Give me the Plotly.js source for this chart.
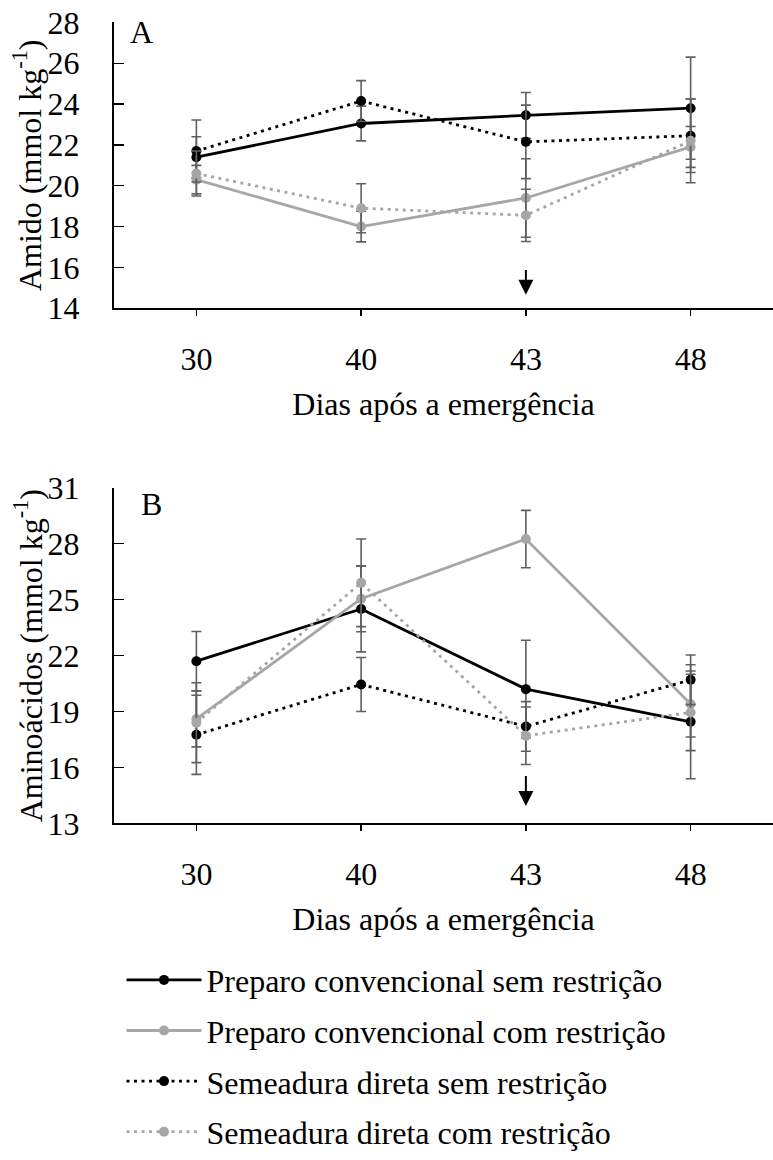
<!DOCTYPE html>
<html><head><meta charset="utf-8">
<script src="https://cdn.plot.ly/plotly-3.0.1.min.js"></script>
<style>
body{margin:0;background:#fff}
#chart{width:773px;height:1160px}
#chart svg text{font-family:"Liberation Serif","Times New Roman","DejaVu Serif",serif !important}
</style>
</head><body><div id="chart"></div>
<script>
// categories
const days = ['30', '40', '43', '48'];
const seriesNames = [
  'Preparo convencional sem restrição',
  'Preparo convencional com restrição',
  'Semeadura direta sem restrição',
  'Semeadura direta com restrição'
];
// Panel A: Amido (mmol kg-1)
const amidoPCsem = [21.4, 23.05, 23.45, 23.8];
const amidoPCsemErr = [1.0, 0.85, 1.12, 2.5];
const amidoPCcom = [20.3, 18.0, 19.4, 21.9];
const amidoPCcomErr = [0.7, 0.75, 1.92, 1.0];
const amidoSDsem = [21.7, 24.15, 22.15, 22.45];
const amidoSDsemErr = [1.52, 1.0, 1.8, 1.8];
const amidoSDcom = [20.6, 18.9, 18.55, 22.2];
const amidoSDcomErr = [1.1, 1.2, 1.28, 2.05];
// Panel B: Aminoácidos (mmol kg-1)
const aminoPCsem = [21.7, 24.5, 20.2, 18.45];
const aminoPCsemErr = [1.59, 2.3, 2.62, 3.06];
const aminoPCcom = [18.6, 25.05, 28.25, 19.4];
const aminoPCcomErr = [1.5, 1.77, 1.54, 1.77];
const aminoSDsem = [17.75, 20.45, 18.2, 20.7];
const aminoSDsemErr = [2.12, 1.45, 1.33, 1.33];
const aminoSDcom = [18.4, 25.9, 17.7, 18.95];
const aminoSDcomErr = [2.14, 2.35, 1.54, 2.05];
// tick values
const amidoTicks = [14, 16, 18, 20, 22, 24, 26, 28];
const aminoTicks = [13, 16, 19, 22, 25, 28, 31];

const FONT = 'Liberation Serif';
const BLACK = '#000000', GRAY = '#a6a6a6', ERR = '#606060';
const DOT = '3px,4.5px';
const styles = [
  {color: BLACK, dash: 'solid'},
  {color: GRAY, dash: 'solid'},
  {color: BLACK, dash: DOT},
  {color: GRAY, dash: DOT}
];

function mk(i, y, err, xa, ya, showlegend) {
  return {
    type: 'scatter', mode: 'lines+markers',
    x: days, y: y, name: seriesNames[i],
    legendgroup: 'g' + i, showlegend: showlegend,
    xaxis: xa, yaxis: ya,
    line: {color: styles[i].color, width: 2.8, dash: styles[i].dash},
    marker: {color: styles[i].color, size: 10, symbol: 'circle'},
    error_y: {type: 'data', array: err, visible: true, color: ERR, thickness: 1.6, width: 5},
    cliponaxis: false
  };
}

const data = [
  mk(0, amidoPCsem, amidoPCsemErr, 'x', 'y', true),
  mk(1, amidoPCcom, amidoPCcomErr, 'x', 'y', true),
  mk(2, amidoSDsem, amidoSDsemErr, 'x', 'y', true),
  mk(3, amidoSDcom, amidoSDcomErr, 'x', 'y', true),
  mk(0, aminoPCsem, aminoPCsemErr, 'x2', 'y2', false),
  mk(1, aminoPCcom, aminoPCcomErr, 'x2', 'y2', false),
  mk(2, aminoSDsem, aminoSDsemErr, 'x2', 'y2', false),
  mk(3, aminoSDcom, aminoSDcomErr, 'x2', 'y2', false)
];

const H = 1160;
const domA = [1 - 311.7 / H, 1 - 22.7 / H];
const domB = [1 - 832.7 / H, 1 - 493.3 / H];

function xax(anchor) {
  return {
    type: 'category', categoryorder: 'array', categoryarray: days,
    range: [-0.5, 3.5], anchor: anchor, domain: [0, 1],
    showline: true, linecolor: BLACK, linewidth: 2,
    ticks: 'outside', ticklen: 6, tickwidth: 1.5, tickcolor: BLACK,
    showgrid: false, zeroline: false,
    tickfont: {family: FONT, size: 32, color: BLACK},
    ticklabelstandoff: 15,
    title: {text: 'Dias após a emergência', font: {family: FONT, size: 32, color: BLACK}, standoff: 17},
    fixedrange: true
  };
}
function xaxOverlay(over, anchor) {
  return {
    type: 'category', categoryorder: 'array', categoryarray: days,
    range: [-0.5, 3.5], anchor: anchor, overlaying: over, domain: [0, 1],
    showline: false, ticks: 'inside', ticklen: 6, tickwidth: 1.5, tickcolor: BLACK,
    showticklabels: false, showgrid: false, zeroline: false, fixedrange: true
  };
}
function yax(domain, range, ticks, anchor) {
  return {
    domain: domain, range: range, tickvals: ticks, anchor: anchor,
    showline: true, linecolor: BLACK, linewidth: 2,
    ticks: 'inside', ticklen: 10, tickwidth: 1.5, tickcolor: BLACK,
    showgrid: false, zeroline: false,
    tickfont: {family: FONT, size: 32, color: BLACK},
    ticklabelstandoff: 26,
    fixedrange: true
  };
}

const i43 = days.indexOf('43');
const ytitleX = (27.7 - 114) / 659;

const layout = {
  width: 773, height: 1160,
  margin: {l: 114, r: 0, t: 0, b: 0},
  paper_bgcolor: '#ffffff', plot_bgcolor: 'rgba(0,0,0,0)',
  font: {family: FONT, size: 32, color: BLACK},
  xaxis: xax('y'),
  yaxis: yax(domA, [14, 28], amidoTicks, 'x'),
  xaxis2: xax('y2'),
  yaxis2: yax(domB, [13, 31], aminoTicks, 'x2'),
  xaxis3: xaxOverlay('x', 'y'),
  xaxis4: xaxOverlay('x2', 'y2'),
  showlegend: true,
  legend: {
    x: 0.0114, y: 1 - 963.4 / H, xanchor: 'left', yanchor: 'top',
    font: {family: FONT, size: 32, color: BLACK},
    itemwidth: 75, tracegroupgap: 6, traceorder: 'grouped',
    bgcolor: 'rgba(0,0,0,0)'
  },
  annotations: [
    {xref: 'paper', yref: 'y domain', x: ytitleX, y: 0.5, xanchor: 'center', yanchor: 'middle',
     textangle: -90, text: 'Amido (mmol kg<sup>-1</sup>)', showarrow: false,
     font: {family: FONT, size: 32, color: BLACK}},
    {xref: 'paper', yref: 'y2 domain', x: ytitleX, y: 0.5, xanchor: 'center', yanchor: 'middle',
     textangle: -90, text: 'Aminoácidos (mmol kg<sup>-1</sup>)', showarrow: false,
     font: {family: FONT, size: 32, color: BLACK}},
    {xref: 'x domain', yref: 'y domain', x: 0.022, y: 1.035, xanchor: 'left', yanchor: 'top',
     text: 'A', showarrow: false, font: {family: FONT, size: 32, color: BLACK}},
    {xref: 'x2 domain', yref: 'y2 domain', x: 0.038, y: 1.011, xanchor: 'left', yanchor: 'top',
     text: 'B', showarrow: false, font: {family: FONT, size: 32, color: BLACK}},
    {xref: 'x', yref: 'y', axref: 'x', ayref: 'y', x: i43, y: 14.66, ax: i43, ay: 15.95,
     showarrow: true, arrowhead: 2, arrowsize: 1.5, arrowwidth: 2, arrowcolor: BLACK, text: ''},
    {xref: 'x2', yref: 'y2', axref: 'x2', ayref: 'y2', x: i43, y: 13.93, ax: i43, ay: 15.62,
     showarrow: true, arrowhead: 2, arrowsize: 1.5, arrowwidth: 2, arrowcolor: BLACK, text: ''}
  ]
};

Plotly.newPlot('chart', data, layout, {displayModeBar: false, staticPlot: true});
</script></body></html>
